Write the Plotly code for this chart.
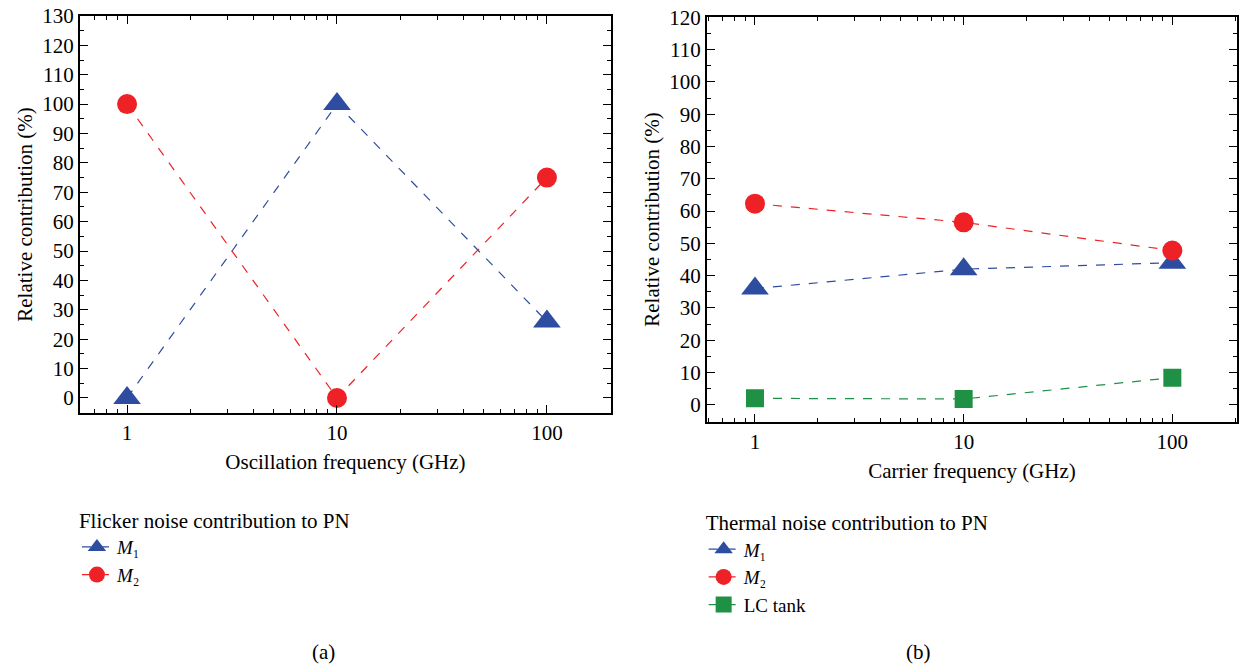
import plotly.graph_objects as go

# Panel (a): flicker noise
freq_a = [1, 10, 100]
m1_a = [0, 100, 26]
m2_a = [100, 0, 75]

# Panel (b): thermal noise
freq_b = [1, 10, 100]
m1_b = [36, 42, 44]
m2_b = [62.3, 56.5, 47.8]
lc_b = [2.0, 1.8, 8.4]

y_ticks_a = list(range(0, 131, 10))
y_ticks_b = list(range(0, 121, 10))
x_ticks = [1, 10, 100]

BLUE = "#2E4DA0"
RED = "#EE2226"
GREEN = "#1F9145"
FONT = "Liberation Serif"
FS = 21
LFS = 19

fig = go.Figure()

fig.add_trace(go.Scatter(x=freq_a, y=m1_a, mode="lines+markers", name="<i>M</i>₁",
                         line=dict(color=BLUE, dash="dash", width=1.2),
                         marker=dict(symbol="triangle-up", size=24, color=BLUE),
                         xaxis="x", yaxis="y", legend="legend"))
fig.add_trace(go.Scatter(x=freq_a, y=m2_a, mode="lines+markers", name="<i>M</i>₂",
                         line=dict(color=RED, dash="dash", width=1.2),
                         marker=dict(symbol="circle", size=20, color=RED),
                         xaxis="x", yaxis="y", legend="legend"))

fig.add_trace(go.Scatter(x=freq_b, y=m1_b, mode="lines+markers", name="<i>M</i>₁",
                         line=dict(color=BLUE, dash="dash", width=1.2),
                         marker=dict(symbol="triangle-up", size=24, color=BLUE),
                         xaxis="x2", yaxis="y2", legend="legend2"))
fig.add_trace(go.Scatter(x=freq_b, y=m2_b, mode="lines+markers", name="<i>M</i>₂",
                         line=dict(color=RED, dash="dash", width=1.2),
                         marker=dict(symbol="circle", size=20, color=RED),
                         xaxis="x2", yaxis="y2", legend="legend2"))
fig.add_trace(go.Scatter(x=freq_b, y=lc_b, mode="lines+markers", name="LC tank",
                         line=dict(color=GREEN, dash="dash", width=1.2),
                         marker=dict(symbol="square", size=18, color=GREEN),
                         xaxis="x2", yaxis="y2", legend="legend2"))

common_x = dict(type="log", tickvals=x_ticks, ticktext=[str(v) for v in x_ticks],
                ticks="inside", ticklen=8, tickwidth=1.2, tickcolor="black",
                showline=True, linecolor="black", linewidth=2, mirror="ticks",
                showgrid=False, zeroline=False, automargin=False,
                minor=dict(ticks="inside", ticklen=4, tickcolor="black", dtick="D1", showgrid=False),
                tickfont=dict(family=FONT, size=FS, color="black"),
                title_font=dict(family=FONT, size=FS, color="black"), title_standoff=10)
common_y = dict(ticks="inside", ticklen=8, tickwidth=1.2, tickcolor="black",
                showline=True, linecolor="black", linewidth=2, mirror="ticks",
                showgrid=False, zeroline=False, dtick=10, automargin=False,
                minor=dict(ticks="inside", ticklen=4, tickcolor="black", dtick=5, showgrid=False),
                tickfont=dict(family=FONT, size=FS, color="black"),
                title_font=dict(family=FONT, size=FS, color="black"), title_standoff=4)

fig.update_layout(
    width=1241, height=665,
    margin=dict(l=0, r=0, t=0, b=0),
    paper_bgcolor="white", plot_bgcolor="white",
    font=dict(family=FONT, size=FS, color="black"),
    xaxis=dict(common_x, domain=[0.0645, 0.4923], range=[-0.224, 2.305],
               title_text="Oscillation frequency (GHz)", anchor="y"),
    yaxis=dict(common_y, domain=[0.379, 0.976], range=[-5.1, 130], tickvals=y_ticks_a,
               title_text="Relative contribution (%)", anchor="x"),
    xaxis2=dict(common_x, domain=[0.5697, 0.9968], range=[-0.23, 2.31],
                title_text="Carrier frequency (GHz)", anchor="y2"),
    yaxis2=dict(common_y, domain=[0.366, 0.974], range=[-5.2, 120], tickvals=y_ticks_b,
                title_text="Relative contribution (%)", anchor="x2"),
    legend=dict(x=0.062, y=0.247, xanchor="left", yanchor="top",
                title=dict(text="Flicker noise contribution to PN", font=dict(family=FONT, size=FS)),
                font=dict(family=FONT, size=LFS), bgcolor="rgba(0,0,0,0)", tracegroupgap=0),
    legend2=dict(x=0.567, y=0.2435, xanchor="left", yanchor="top",
                 title=dict(text="Thermal noise contribution to PN", font=dict(family=FONT, size=FS)),
                 font=dict(family=FONT, size=LFS), bgcolor="rgba(0,0,0,0)", tracegroupgap=0),
    annotations=[
        dict(text="(a)", x=310 / 1241, y=1 - 652 / 665, xref="paper", yref="paper",
             yanchor="middle", showarrow=False, font=dict(family=FONT, size=FS)),
        dict(text="(b)", x=933 / 1241, y=1 - 652 / 665, xref="paper", yref="paper",
             yanchor="middle", showarrow=False, font=dict(family=FONT, size=FS)),
    ],
)

fig.write_html("out.html")
